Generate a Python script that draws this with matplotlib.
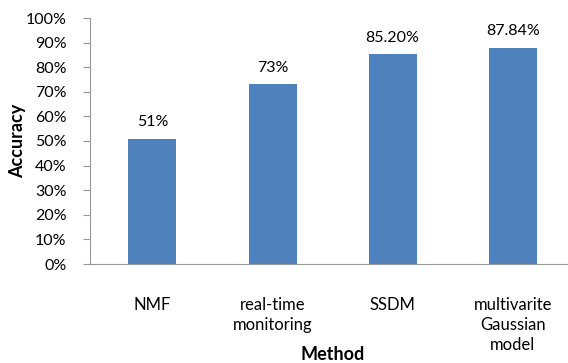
import numpy as np
import matplotlib.pyplot as plt
from matplotlib.ticker import PercentFormatter

methods = ['NMF', 'real-time\nmonitoring', 'SSDM', 'multivarite\nGaussian\nmodel']
accuracy = [51, 73, 85.20, 87.84]
value_labels = ['51%', '73%', '85.20%', '87.84%']

plt.rcParams['font.family'] = ['Lato', 'DejaVu Sans']

fig = plt.figure(figsize=(5.68, 3.63), dpi=100)
ax = fig.add_axes([90 / 568, 1 - 264 / 363, 478 / 568, 246 / 363])

xindex = np.arange(len(methods))
bars = ax.bar(xindex, accuracy, width=0.4, color='#4F81BD')

for rect, lbl in zip(bars, value_labels):
    ax.text(rect.get_x() + rect.get_width() / 2, rect.get_height() + 4, lbl,
            ha='center', va='bottom', fontsize=11.5)

ax.set_xlim(-0.52, 3.46)
ax.set_ylim(0, 100)
ax.set_yticks(np.arange(0, 101, 10))
ax.yaxis.set_major_formatter(PercentFormatter(decimals=0))
ax.set_xticks(xindex)
ax.set_xticklabels(methods, fontsize=12, linespacing=1.3, va='top')
ax.tick_params(axis='x', length=0, pad=24)
ax.tick_params(axis='y', labelsize=11.5, length=5, color='#999999', pad=12)

for side in ['top', 'right']:
    ax.spines[side].set_visible(False)
for side in ['left', 'bottom']:
    ax.spines[side].set_color('#999999')

# axis titles placed by hand
fig.text(18 / 568, 1 - 141 / 363, 'Accuracy', rotation=90, ha='center',
         va='center', fontsize=13, fontweight='bold')
fig.text(333 / 568, 1 - 354 / 363, 'Method', ha='center', va='center',
         fontsize=13, fontweight='bold')

fig.savefig('out.png', dpi=100)
